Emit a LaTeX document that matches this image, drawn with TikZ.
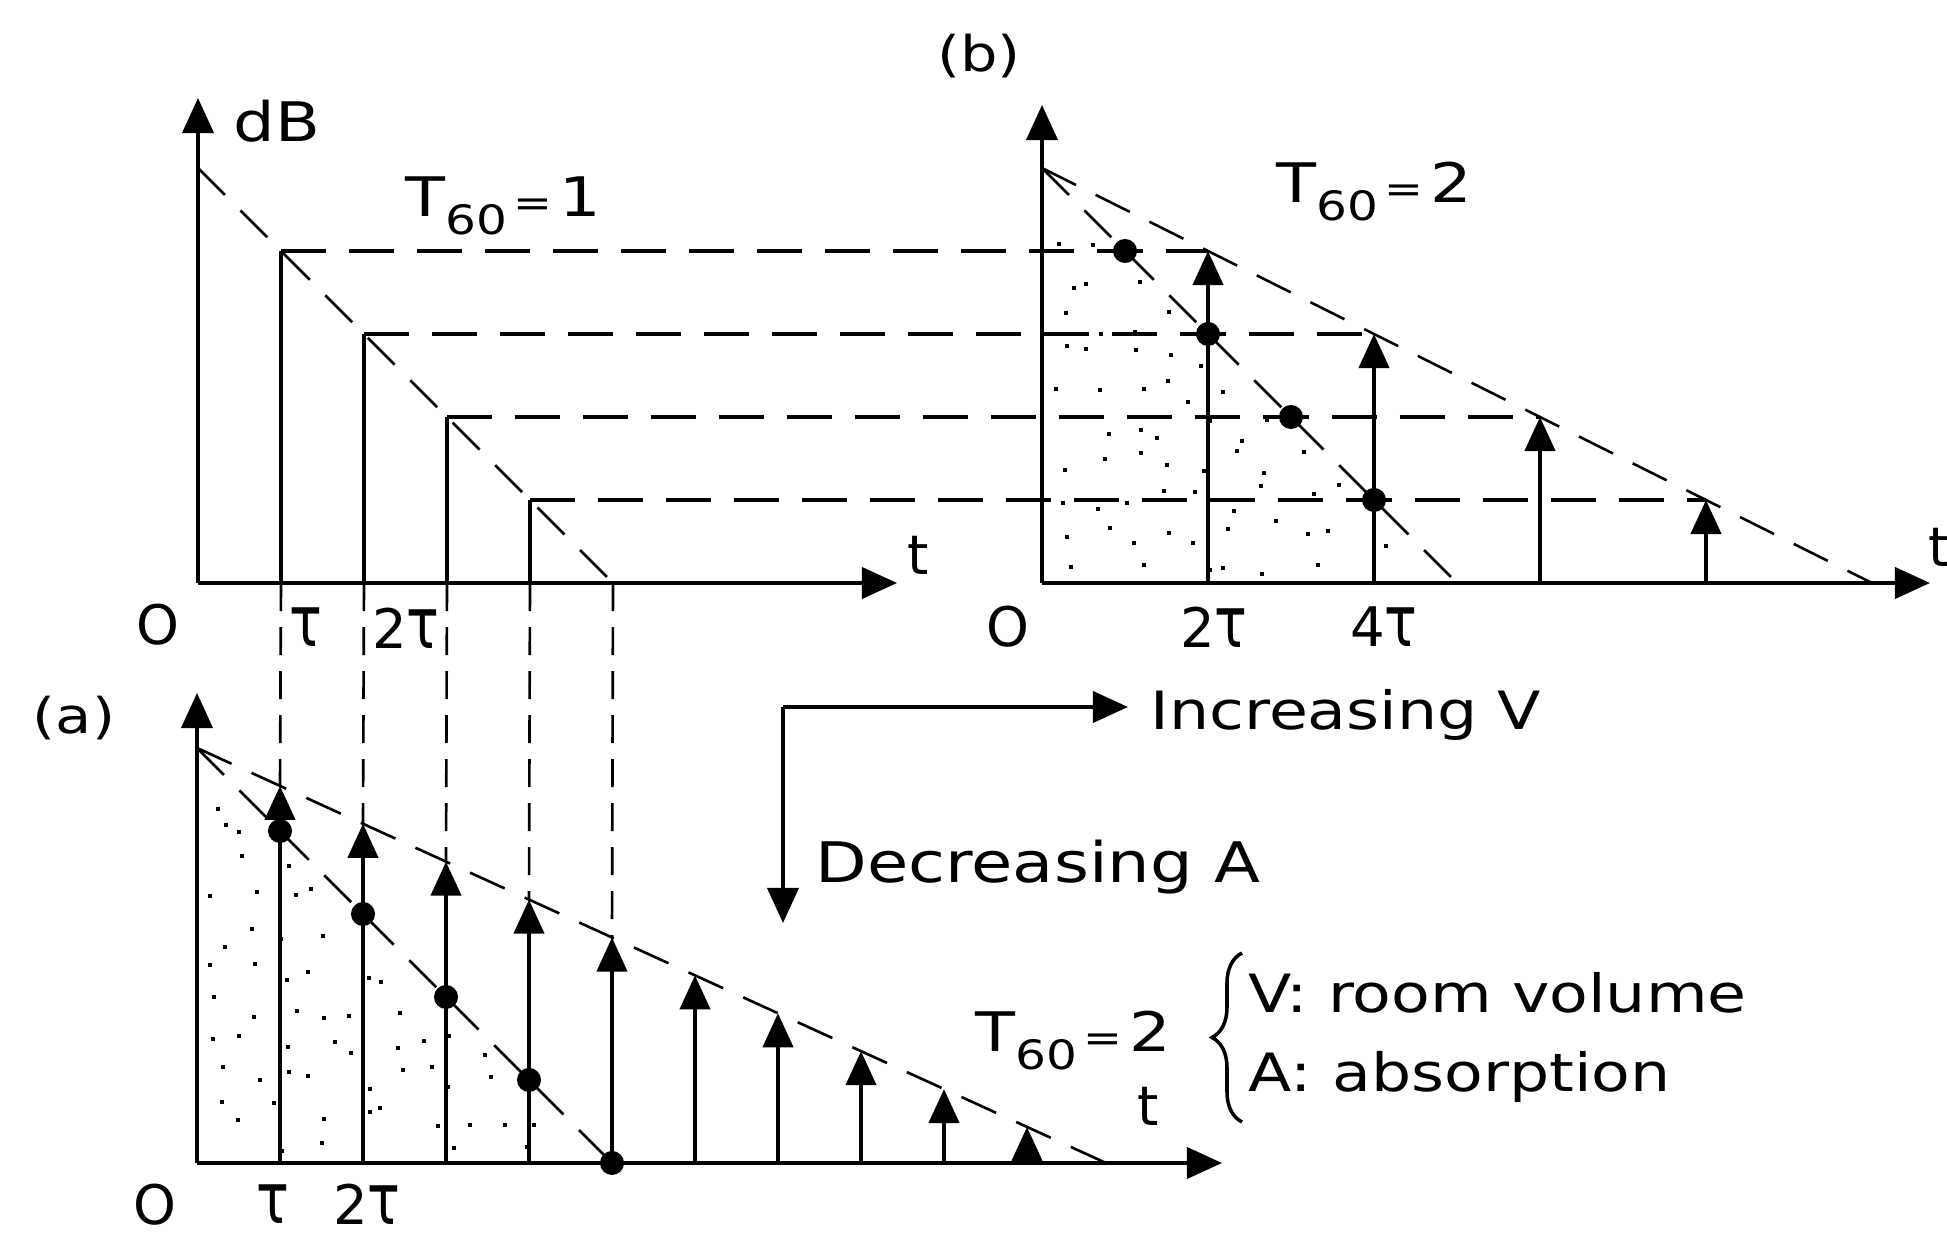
\documentclass[tikz,border=0pt]{standalone}
\usepackage{fontspec}
\usepackage{graphicx}
\setmainfont{DejaVu Sans}
\newfontfamily\plt[FakeStretch=1.2]{DejaVu Sans}
\usetikzlibrary{arrows.meta,decorations.pathreplacing}
\newcommand\tallTau{\scalebox{1}[1.3]{τ}}
\newcommand\Tsix[1]{T\raisebox{-5pt}{\fontsize{11.5}{12}\selectfont 60}{\fontsize{11}{12}\selectfont\,=\,}#1}
\newcommand\stipple[3]{%
  \foreach \i in {0,...,11}{\foreach \j in {0,...,11}{%
    \pgfmathsetmacro\sdx{(\i+0.5)*35+14*rand}%
    \pgfmathsetmacro\sdy{(\j+0.5)*35+14*rand}%
    \pgfmathtruncatemacro\sins{and(and((\sdx+\sdy)<(#3-16),\sdx>9),\sdy>9)}%
    \ifnum\sins=1 \fill (#1+\sdx,#2-\sdy) rectangle ++(4,4);\fi
  }}}
\begin{document}
\begin{tikzpicture}[x=0.01cm,y=-0.01cm,
  axis/.style={line width=1.1pt,-{Triangle[length=3.5mm,width=3.1mm]}},
  stem/.style={line width=1.2pt,-{Triangle[length=3.4mm,width=3mm]}},
  bar/.style={line width=1.2pt},
  hdash/.style={line width=1pt,dash pattern=on 4.5mm off 2.3mm},
  ddash/.style={line width=0.75pt,dash pattern=on 3.8mm off 2.2mm},
  vdash/.style={line width=0.75pt,dash pattern=on 2.8mm off 1.6mm},
  dot/.style={circle,fill,inner sep=0pt,minimum size=2.4mm},
  lbl/.style={font=\fontsize{15.5}{18}\selectfont,inner sep=0pt},
  plbl/.style={font=\plt\fontsize{15.5}{18}\selectfont,inner sep=0pt,anchor=base west},
 ]
\useasboundingbox (0,0) rectangle (1947,1237);
\pgfmathsetseed{11}

% ---------------- chart 1 (T60=1) ----------------
\coordinate (O1) at (198,583);
\coordinate (Y1) at (198,98);
\coordinate (X1) at (897,583);
\coordinate (S1) at (198,168);
\coordinate (E1) at (613,583);
\draw[axis] (O1) -- (Y1);
\draw[axis] (O1) -- (X1);
\draw[ddash] (S1) -- (E1);
\foreach \k in {1,...,4}{
  \coordinate (p\k) at (198+83*\k,583-83*5+83*\k);
  \coordinate (q\k) at (198+83*\k,583);
  \coordinate (b\k) at (1042+166*\k,583-83*5+83*\k);
  \draw[bar] (q\k) -- (p\k);
  \draw[hdash] (p\k) -- (b\k);
}
\coordinate (q5) at (E1);

% ---------------- chart (b) ----------------
\coordinate (O2) at (1042,583);
\coordinate (Y2) at (1042,105);
\coordinate (X2) at (1930,583);
\coordinate (S2) at (1042,168);
\coordinate (E2a) at (1872,583);
\coordinate (E2b) at (1457,583);
\stipple{1042}{583}{415}
\draw[axis] (O2) -- (Y2);
\draw[axis] (O2) -- (X2);
\draw[ddash] (S2) -- (E2a);
\draw[ddash] (S2) -- (E2b);
\foreach \k in {1,...,4}{
  \coordinate (bb\k) at (1042+166*\k,583);
  \draw[stem] (bb\k) -- (b\k);
  \node[dot] (db\k) at (1042+83*\k,583-83*5+83*\k) {};
}

% ---------------- chart (a) ----------------
\coordinate (O3) at (197,1163);
\coordinate (Y3) at (197,693);
\coordinate (X3) at (1222,1163);
\coordinate (S3) at (197,748);
\coordinate (E3a) at (1106,1163);
\coordinate (E3b) at (612,1163);
\stipple{197}{1163}{415}
\draw[axis] (O3) -- (Y3);
\draw[axis] (O3) -- (X3);
\draw[ddash] (S3) -- (E3a);
\draw[ddash] (S3) -- (E3b);
\foreach \k in {1,...,10}{
  \coordinate (ab\k) at (197+83*\k,1163);
  \coordinate (at\k) at (197+83*\k,748+37.9*\k);
  \draw[stem] (ab\k) -- (at\k);
}
\foreach \k in {1,...,5}{
  \node[dot] (da\k) at (197+83*\k,748+83*\k) {};
  \draw[vdash] (q\k) -- (at\k);
}

% ---------------- trend arrows ----------------
\coordinate (C) at (783,707);
\coordinate (CV) at (1128,707);
\coordinate (CA) at (783,923);
\draw[axis] (C) -- (CV);
\draw[axis] (C) -- (CA);

% ---------------- labels ----------------
\node[plbl] (dB) at (233,142) {dB};
\node[plbl] (T1) at (405,217) {\Tsix{1}};
\node[plbl] (T2) at (1276,203) {\Tsix{2}};
\node[plbl] (T3) at (975,1052) {\Tsix{2}};
\node[font=\plt\fontsize{14}{16}\selectfont,inner sep=0pt] (lb) at (979,56) {(b)};
\node[font=\plt\fontsize{14}{16}\selectfont,inner sep=0pt] (la) at (74,718) {(a)};

\node[lbl] (o1) at (158,625) {O};
\node[lbl] (tau1) at (306,627) {\tallTau};
\node[lbl] (tau2) at (406,628) {2\tallTau};
\node[lbl] (t1) at (918,555) {t};

\node[lbl] (o2) at (1008,627) {O};
\node[lbl] (tau3) at (1214,627) {2\tallTau};
\node[lbl] (tau4) at (1384,627) {4\tallTau};
\node[lbl,anchor=base west] (t2) at (1928,567) {t};

\node[lbl] (o3) at (155,1205) {O};
\node[lbl] (tau5) at (273,1204) {\tallTau};
\node[lbl] (tau6) at (367,1204) {2\tallTau};
\node[lbl] (t3) at (1148,1106) {t};

\node[plbl,font=\plt\fontsize{15}{18}\selectfont] (incV) at (1150,730) {Increasing V};
\node[plbl,font=\plt\fontsize{15.9}{18}\selectfont] (decA) at (815,883) {Decreasing A};

\coordinate (br1) at (1242,1122);
\coordinate (br2) at (1242,953);
\draw[line width=1pt,decorate,decoration={brace,amplitude=3mm}] (br1) -- (br2);
\node[plbl,font=\plt\fontsize{15}{18}\selectfont] (vtxt) at (1248,1013) {V: room volume};
\node[plbl,font=\plt\fontsize{15}{18}\selectfont] (atxt) at (1248,1092) {A: absorption};
\end{tikzpicture}
\end{document}
